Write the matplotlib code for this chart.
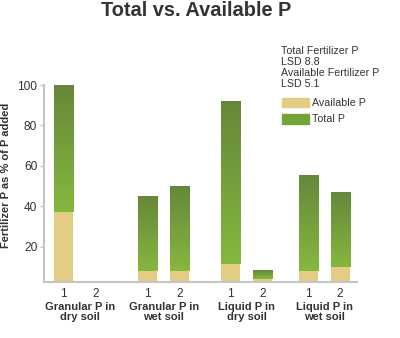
import numpy as np
import matplotlib
matplotlib.use("Agg")
import matplotlib.pyplot as plt
from matplotlib.colors import LinearSegmentedColormap
from matplotlib.patches import Rectangle

plt.rcParams['font.family'] = ['Liberation Sans', 'DejaVu Sans']

groups = ["Granular P in\ndry soil", "Granular P in\nwet soil",
          "Liquid P in\ndry soil", "Liquid P in\nwet soil"]
sub_labels = ["1", "2"]
available_p = [[37, 0], [8, 8], [11.5, 4], [8, 10]]
total_p = [[100, 0], [45, 50], [92, 8], [55.5, 47]]
legend_notes = ["Total Fertilizer P", "LSD 8.8", "Available Fertilizer P", "LSD 5.1"]

yellow = "#e3cd84"
green_cmap = LinearSegmentedColormap.from_list("g", ["#85b83e", "#66873a"])
axis_gray = "#c4c4c4"
text_col = "#333333"

fig = plt.figure(figsize=(4.0, 3.38), dpi=100)
W, H = 400, 338
ax = fig.add_axes([43.5 / W, 56 / H, 313.2 / W, 197 / H])

group_starts = [0, 2.625, 5.216, 7.634]
bar_w = 0.594
grad = np.linspace(0, 1, 256).reshape(-1, 1)

xt, xl = [], []
for g, start in enumerate(group_starts):
    for k in range(2):
        x = start + k
        a = available_p[g][k]
        t = total_p[g][k]
        xt.append(x)
        xl.append(sub_labels[k])
        if t <= 0:
            continue
        ax.bar(x, a, width=bar_w, color=yellow, zorder=2)
        ax.imshow(grad, extent=[x - bar_w / 2, x + bar_w / 2, a, t],
                  aspect='auto', origin='lower', cmap=green_cmap, zorder=2)

ax.set_xlim(-0.634, 9.154)
ax.set_ylim(2.5, 100)
ax.set_yticks([20, 40, 60, 80, 100])
ax.set_xticks(xt)
ax.set_xticklabels(xl)
ax.tick_params(axis='y', length=3, width=1, color=axis_gray, labelsize=8.6,
               labelcolor=text_col, pad=1.5)
ax.tick_params(axis='x', length=0, labelsize=8.6, labelcolor=text_col, pad=4)
for s in ['top', 'right']:
    ax.spines[s].set_visible(False)
for s in ['left', 'bottom']:
    ax.spines[s].set_color(axis_gray)
    ax.spines[s].set_linewidth(1.5)

for g, start in enumerate(group_starts):
    ax.text(start + 0.5, -0.1, groups[g], transform=ax.get_xaxis_transform(),
            ha='center', va='top', fontsize=8, fontweight='bold',
            color=text_col, linespacing=1.05)

fig.text(196.5 / W, 1 - 11 / H, "Total vs. Available P", ha='center', va='center',
         fontsize=14.4, fontweight='bold', color=text_col)
fig.text(6.5 / W, 1 - 175.5 / H, "Fertilizer P as % of P added", rotation=90,
         ha='center', va='center', fontsize=8, fontweight='bold', color=text_col)

for i, note in enumerate(legend_notes):
    fig.text(281 / W, 1 - (51.5 + 10.8 * i) / H, note, ha='left', va='center',
             fontsize=7.7, color=text_col)
fig.add_artist(Rectangle((281.5 / W, 1 - 107 / H), 27 / W, 9 / H,
                         transform=fig.transFigure, color=yellow))
fig.add_artist(Rectangle((281.5 / W, 1 - 123.5 / H), 27 / W, 9 / H,
                         transform=fig.transFigure, color="#76a23c"))
fig.text(312 / W, 1 - 103 / H, "Available P", ha='left', va='center',
         fontsize=7.7, color=text_col)
fig.text(312 / W, 1 - 119.5 / H, "Total P", ha='left', va='center',
         fontsize=7.7, color=text_col)

fig.savefig("out.png", dpi=100)
